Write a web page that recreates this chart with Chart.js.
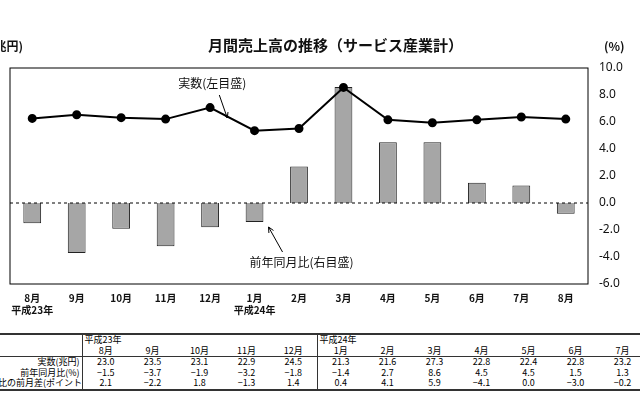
<!DOCTYPE html>
<html><head><meta charset="utf-8">
<script src="https://cdn.jsdelivr.net/npm/chart.js@4"></script>
<style>
body{margin:0;width:640px;height:400px;overflow:hidden;background:#fff;font-family:"Noto Sans CJK JP",sans-serif;position:relative}
#wrap{position:absolute;left:0;top:0;width:640px;height:330px}
.t{position:absolute;font-family:"Noto Sans CJK JP";color:#111}
table{position:absolute;left:-40px;top:333px;width:733px;border-collapse:collapse;font-size:9px;font-family:"Noto Sans CJK JP";table-layout:fixed}
td{padding:0 2px;height:10.5px;line-height:10.5px;text-align:center;white-space:nowrap;overflow:hidden}
td.l{text-align:right;border-right:1.5px solid #333}
tr.b td{border-bottom:1px solid #333}
</style></head><body>
<div id="wrap"><canvas id="c" width="640" height="330"></canvas></div>
<div class="t" style="left:208px;top:34px;font-size:15px;font-weight:bold">月間売上高の推移（サービス産業計）</div>
<div class="t" style="left:-10px;top:37px;font-size:12px;font-weight:bold">(兆円)</div>
<div class="t" style="left:604px;top:37px;font-size:12px;font-weight:bold">(%)</div>
<table id="tb"></table>
<script>
const categories=[["8月","平成23年"],"9月","10月","11月","12月",["1月","平成24年"],"2月","3月","4月","5月","6月","7月","8月"];
const actual=[23.0,23.5,23.1,22.9,24.5,21.3,21.6,27.3,22.8,22.4,22.8,23.2,22.9];
const yoy=[-1.5,-3.7,-1.9,-3.2,-1.8,-1.4,2.7,8.6,4.5,4.5,1.5,1.3,-0.8];
const diff=["2.1","-2.2","1.8","-1.3","1.4","0.4","4.1","5.9","-4.1","0.0","-3.0","-0.2","-2.1"];
const tableMonths=["8月","9月","10月","11月","12月","1月","2月","3月","4月","5月","6月","7月","8月"];
const rowLabels=["実数(兆円)","前年同月比(%)","前年同月比の前月差(ポイント)"];

const tb=document.getElementById('tb');
let cols='<colgroup><col style="width:122px">'+tableMonths.map(()=>'<col style="width:47px">').join('')+'</colgroup>';
let h='<tr style="border-top:2px solid #333"><td class="l"></td><td colspan="5" style="text-align:left;border-right:1.5px solid #333">平成23年</td><td colspan="8" style="text-align:left">平成24年</td></tr>';
h+='<tr class="b"><td class="l"></td>'+tableMonths.map((m,i)=>`<td style="${i==4?'border-right:1.5px solid #333':''}">${m}</td>`).join('')+'</tr>';
const rows=[actual.map(v=>v.toFixed(1)),yoy.map(v=>v.toFixed(1)),diff];
rows.forEach((r,ri)=>{h+=`<tr ${ri==2?'style="border-bottom:2px solid #333"':''}><td class="l">${rowLabels[ri]}</td>`+r.map((v,i)=>`<td style="${i==4?'border-right:1.5px solid #333':''}">${v.replace('-','−')}</td>`).join('')+'</tr>';});
tb.innerHTML=cols+h;

const notes={
 id:'notes',
 afterDraw(ch){
  const c=ch.ctx,a=ch.chartArea,x=ch.scales.x,yr=ch.scales.yR;
  c.save();
  c.strokeStyle='#000';c.lineWidth=1;c.strokeRect(a.left,a.top,a.right-a.left,a.bottom-a.top);
  c.setLineDash([3,3]);c.beginPath();c.moveTo(a.left,yr.getPixelForValue(0));c.lineTo(a.right,yr.getPixelForValue(0));c.stroke();c.setLineDash([]);
  c.fillStyle='#111';c.font='12px "Noto Sans CJK JP"';c.textAlign='center';c.textBaseline='middle';
  const x4=(x.getPixelForValue(4)+x.getPixelForValue(5))/2;
  c.fillText('実数(左目盛)',x4-20,83);
  function arrow(x1,y1,x2,y2){c.beginPath();c.moveTo(x1,y1);c.lineTo(x2,y2);c.stroke();
   const an=Math.atan2(y2-y1,x2-x1);c.beginPath();c.moveTo(x2-6*Math.cos(an-0.45),y2-6*Math.sin(an-0.45));c.lineTo(x2,y2);c.lineTo(x2-6*Math.cos(an+0.45),y2-6*Math.sin(an+0.45));c.stroke();}
  arrow(x4-13,95,x4-5,118);
  const x5=x.getPixelForValue(5);
  c.fillText('前年同月比(右目盛)',x5+47,262);
  arrow(x5+28,252,x5+14,227);
  c.restore();
 }};

new Chart(document.getElementById('c'),{
 data:{labels:categories,datasets:[
  {type:'line',data:actual,yAxisID:'yL',borderColor:'#000',borderWidth:2,pointRadius:3.5,pointBackgroundColor:'#000',pointBorderColor:'#000',tension:0,order:0},
  {type:'bar',data:yoy,yAxisID:'yR',backgroundColor:'#a6a6a6',borderColor:'#222',borderWidth:1,barPercentage:0.4,categoryPercentage:1,order:1}
 ]},
 plugins:[notes],
 options:{responsive:false,animation:false,
  layout:{padding:{left:10,top:68,right:4}},
  plugins:{legend:{display:false},tooltip:{enabled:false}},
  scales:{
   x:{grid:{display:false,drawTicks:false},border:{display:false},
      ticks:{color:'#111',font:{size:10,weight:'bold',family:'"Noto Sans CJK JP"'},padding:8,maxRotation:0,autoSkip:false},
      afterFit(s){s.height=46;}},
   yL:{position:'left',display:false,min:0,max:30},
   yR:{position:'right',min:-6,max:10,grid:{display:false,drawTicks:true,tickLength:5},border:{display:false},
      ticks:{stepSize:2,color:'#111',font:{size:12,family:'"Noto Sans"'},padding:6,callback:v=>v.toFixed(1)},
      afterFit(s){s.width=48;}}
  }}
});
</script></body></html>
